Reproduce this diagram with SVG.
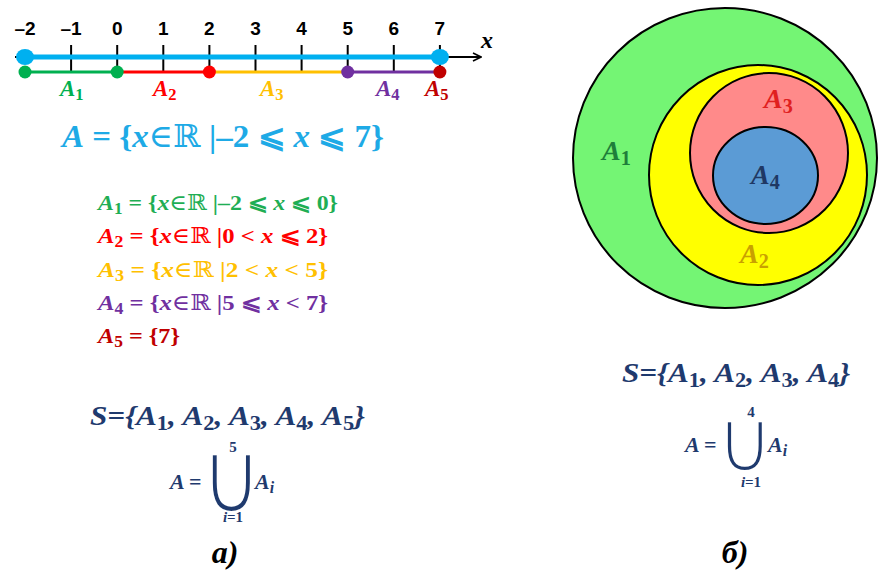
<svg xmlns="http://www.w3.org/2000/svg" width="878" height="572" viewBox="0 0 878 572">
<defs>
<style>
.num{font-family:"Liberation Sans",Arial,sans-serif;font-weight:bold;font-size:19px;text-anchor:middle;fill:#000}
.m{font-family:"Liberation Serif","DejaVu Serif",serif;font-weight:bold;font-style:italic}
.r{font-family:"Liberation Serif","DejaVu Serif",serif;font-weight:bold}
.sub{font-size:0.72em;font-style:normal}
.it{font-style:italic}
.tick{stroke:#000;stroke-width:2}
.ring{stroke:#000;stroke-width:2}
.navy{fill:#1F3A6E}
.cup{font-family:"DejaVu Sans",sans-serif;font-weight:normal;font-style:normal;text-anchor:middle;stroke:#fff;stroke-width:3.6px;vector-effect:non-scaling-stroke}
</style>
<marker id="arr" viewBox="0 0 10 10" refX="9" refY="5" markerWidth="10" markerHeight="10" markerUnits="userSpaceOnUse" orient="auto">
<path d="M1,1 L9,5 L1,9" fill="none" stroke="#000" stroke-width="1.6"/>
</marker>
</defs>
<rect width="878" height="572" fill="#fff"/>

<g id="numberline">
<line x1="15" y1="57" x2="481" y2="57" stroke="#000" stroke-width="2" marker-end="url(#arr)"/>
<line class="tick" x1="71.1" y1="45" x2="71.1" y2="72"/>
<line class="tick" x1="117.2" y1="45" x2="117.2" y2="72"/>
<line class="tick" x1="163.3" y1="45" x2="163.3" y2="72"/>
<line class="tick" x1="209.4" y1="45" x2="209.4" y2="72"/>
<line class="tick" x1="255.5" y1="45" x2="255.5" y2="72"/>
<line class="tick" x1="301.6" y1="45" x2="301.6" y2="72"/>
<line class="tick" x1="347.7" y1="45" x2="347.7" y2="72"/>
<line class="tick" x1="393.8" y1="45" x2="393.8" y2="72"/>
<line class="tick" x1="439.9" y1="45" x2="439.9" y2="72"/>
<line x1="25" y1="57" x2="440" y2="57" stroke="#00B0F0" stroke-width="5"/>
<line x1="25" y1="72" x2="117" y2="72" stroke="#00B050" stroke-width="3"/>
<line x1="117" y1="72" x2="209" y2="72" stroke="#FF0000" stroke-width="3"/>
<line x1="209" y1="72" x2="348" y2="72" stroke="#FFC000" stroke-width="3"/>
<line x1="348" y1="72" x2="440" y2="72" stroke="#7030A0" stroke-width="3"/>
<circle cx="25" cy="72" r="6.5" fill="#00B050"/>
<circle cx="117.2" cy="72" r="6.5" fill="#00B050"/>
<circle cx="209.4" cy="72" r="6.5" fill="#FF0000"/>
<circle cx="347.7" cy="72" r="6.5" fill="#7030A0"/>
<circle cx="439.9" cy="72" r="6.5" fill="#C00000"/>
<ellipse cx="25" cy="57" rx="9" ry="8" fill="#00B0F0"/>
<ellipse cx="439.9" cy="57" rx="9" ry="8" fill="#00B0F0"/>
<text class="num" x="25" y="35">–2</text>
<text class="num" x="71.1" y="35">–1</text>
<text class="num" x="117.2" y="35">0</text>
<text class="num" x="163.3" y="35">1</text>
<text class="num" x="209.4" y="35">2</text>
<text class="num" x="255.5" y="35">3</text>
<text class="num" x="301.6" y="35">4</text>
<text class="num" x="347.7" y="35">5</text>
<text class="num" x="393.8" y="35">6</text>
<text class="num" x="439.9" y="35">7</text>
<text class="m" x="481" y="48" font-size="24" font-weight="normal">x</text>
<text class="m" x="60" y="96" font-size="23" fill="#00B050">A<tspan class="sub" dy="4">1</tspan></text>
<text class="m" x="153" y="96" font-size="23" fill="#FF0000">A<tspan class="sub" dy="4">2</tspan></text>
<text class="m" x="260" y="96" font-size="23" fill="#FFC000">A<tspan class="sub" dy="4">3</tspan></text>
<text class="m" x="376" y="96" font-size="23" fill="#7030A0">A<tspan class="sub" dy="4">4</tspan></text>
<text class="m" x="425" y="96" font-size="23" fill="#C00000">A<tspan class="sub" dy="4">5</tspan></text>
</g>

<g id="formula-A">
<text class="r" x="62" y="147" font-size="32" fill="#1EAAE6" textLength="322" lengthAdjust="spacingAndGlyphs"><tspan class="m">A</tspan> = {<tspan class="m">x</tspan><tspan font-weight="normal">∈ℝ</tspan> |–2 ⩽ <tspan class="m">x</tspan> ⩽ 7}</text>
</g>

<g id="formula-list">
<text class="r" x="98" y="210" font-size="22" fill="#1FAE54" textLength="240" lengthAdjust="spacingAndGlyphs"><tspan class="m">A</tspan><tspan class="sub" dy="4">1</tspan><tspan dy="-4"> = {</tspan><tspan class="m">x</tspan><tspan font-weight="normal">∈ℝ</tspan> |–2 ⩽ <tspan class="m">x</tspan> ⩽ 0}</text>
<text class="r" x="98" y="243" font-size="22" fill="#FF0000" textLength="230" lengthAdjust="spacingAndGlyphs"><tspan class="m">A</tspan><tspan class="sub" dy="4">2</tspan><tspan dy="-4"> = {</tspan><tspan class="m">x</tspan><tspan font-weight="normal">∈ℝ</tspan> |0 &lt; <tspan class="m">x</tspan> ⩽ 2}</text>
<text class="r" x="98" y="277" font-size="22" fill="#FFC000" textLength="230" lengthAdjust="spacingAndGlyphs"><tspan class="m">A</tspan><tspan class="sub" dy="4">3</tspan><tspan dy="-4"> = {</tspan><tspan class="m">x</tspan><tspan font-weight="normal">∈ℝ</tspan> |2 &lt; <tspan class="m">x</tspan> &lt; 5}</text>
<text class="r" x="98" y="310" font-size="22" fill="#7030A0" textLength="230" lengthAdjust="spacingAndGlyphs"><tspan class="m">A</tspan><tspan class="sub" dy="4">4</tspan><tspan dy="-4"> = {</tspan><tspan class="m">x</tspan><tspan font-weight="normal">∈ℝ</tspan> |5 ⩽ <tspan class="m">x</tspan> &lt; 7}</text>
<text class="r" x="98" y="343" font-size="22" fill="#C00000" textLength="82" lengthAdjust="spacingAndGlyphs"><tspan class="m">A</tspan><tspan class="sub" dy="4">5</tspan><tspan dy="-4"> = {7}</tspan></text>
</g>

<g id="left-S">
<text class="m navy" x="90" y="425" font-size="28" textLength="275" lengthAdjust="spacingAndGlyphs">S={A<tspan class="sub" dy="5">1</tspan><tspan dy="-5">, A</tspan><tspan class="sub" dy="5">2</tspan><tspan dy="-5">, A</tspan><tspan class="sub" dy="5">3</tspan><tspan dy="-5">, A</tspan><tspan class="sub" dy="5">4</tspan><tspan dy="-5">, A</tspan><tspan class="sub" dy="5">5</tspan><tspan dy="-5">}</tspan></text>
<text class="cup navy" font-size="46" transform="translate(231.5,513) scale(1.85,2.24)">∪</text>
<text class="m navy" x="170" y="489" font-size="22">A <tspan font-style="normal">=</tspan></text>
<text class="r navy" x="233" y="452" font-size="15" text-anchor="middle">5</text>
<text class="m navy" x="233" y="522" font-size="15" text-anchor="middle">i<tspan font-style="normal">=1</tspan></text>
<text class="m navy" x="255" y="489" font-size="22">A<tspan class="sub it" dy="4">i</tspan></text>
<text class="m" x="225" y="563" font-size="32" text-anchor="middle" fill="#000">а)</text>
</g>

<g id="venn">
<ellipse id="A1" class="ring" cx="725" cy="158" rx="152" ry="150" fill="#74F574"/>
<ellipse id="A2" class="ring" cx="758" cy="175" rx="109" ry="110" fill="#FFFF00"/>
<ellipse id="A3" class="ring" cx="769" cy="153" rx="79" ry="80" fill="#FF8A8A"/>
<ellipse id="A4" class="ring" cx="765.5" cy="175.5" rx="52.5" ry="48.5" fill="#5B9BD5"/>
<text class="m" x="602" y="160" font-size="28" fill="#1E7E3A" font-weight="normal">A<tspan class="sub" dy="5">1</tspan></text>
<text class="m" x="764" y="108" font-size="28" fill="#E0201F" font-weight="normal">A<tspan class="sub" dy="5">3</tspan></text>
<text class="m" x="751" y="184" font-size="28" fill="#1F3864" font-weight="normal">A<tspan class="sub" dy="5">4</tspan></text>
<text class="m" x="740" y="263" font-size="28" fill="#C9A000" font-weight="normal">A<tspan class="sub" dy="5">2</tspan></text>
</g>

<g id="right-S">
<text class="m navy" x="622" y="382" font-size="28" textLength="228" lengthAdjust="spacingAndGlyphs">S={A<tspan class="sub" dy="5">1</tspan><tspan dy="-5">, A</tspan><tspan class="sub" dy="5">2</tspan><tspan dy="-5">, A</tspan><tspan class="sub" dy="5">3</tspan><tspan dy="-5">, A</tspan><tspan class="sub" dy="5">4</tspan><tspan dy="-5">}</tspan></text>
<text class="cup navy" font-size="42" transform="translate(745,472) scale(1.88,2.12)">∪</text>
<text class="m navy" x="685" y="452" font-size="22">A <tspan font-style="normal">=</tspan></text>
<text class="r navy" x="751" y="417" font-size="15" text-anchor="middle">4</text>
<text class="m navy" x="751" y="487" font-size="15" text-anchor="middle">i<tspan font-style="normal">=1</tspan></text>
<text class="m navy" x="768" y="452" font-size="22">A<tspan class="sub it" dy="4">i</tspan></text>
<text class="m" x="735" y="563" font-size="32" text-anchor="middle" fill="#000">б)</text>
</g>
</svg>
